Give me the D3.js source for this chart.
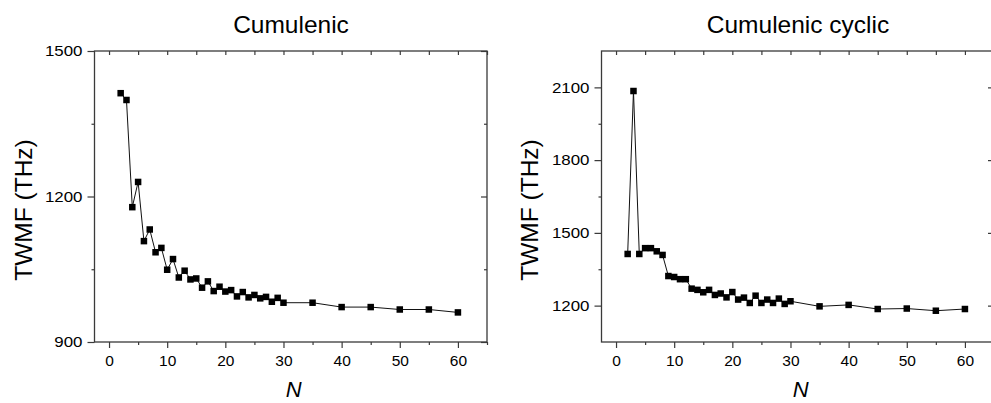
<!DOCTYPE html>
<html>
<head>
<meta charset="utf-8">
<script src="https://cdn.jsdelivr.net/npm/d3@7"></script>
<style>
  html, body { margin: 0; padding: 0; background: #fff; }
  svg { display: block; font-family: "Liberation Sans", Arial, sans-serif; }
</style>
</head>
<body>
<div id="chart"></div>
<script>
"use strict";

/* ── Data ── */
const nValues = [2, 3, 4, 5, 6, 7, 8, 9, 10, 11, 12, 13, 14, 15, 16, 17, 18, 19, 20,
                 21, 22, 23, 24, 25, 26, 27, 28, 29, 30, 35, 40, 45, 50, 55, 60];

const cumulenic = [1413, 1399, 1178, 1230, 1108, 1132, 1085, 1094, 1049, 1071,
                   1033, 1047, 1029, 1031, 1012, 1025, 1005, 1014, 1004, 1007,
                   994, 1003, 992, 997, 990, 993, 983, 991, 981,
                   981, 972, 972, 967, 967, 961];

const cumulenicCyclic = [1413, 2085, 1413, 1437, 1437, 1424, 1409, 1322, 1318, 1309,
                         1309, 1270, 1265, 1255, 1265, 1244, 1250, 1234, 1256, 1225,
                         1233, 1211, 1241, 1211, 1225, 1211, 1229, 1207, 1218,
                         1197, 1203, 1186, 1188, 1179, 1186];

const xMajorTicks = [0, 10, 20, 30, 40, 50, 60];
const xMinorTicks = [5, 15, 25, 35, 45, 55, 65];

const leftYMajor  = [900, 1200, 1500];
const leftYMinor  = [1050, 1350];
const rightYMajor = [1200, 1500, 1800, 2100];
const rightYMinor = [1350, 1650, 1950];

const titles = ["Cumulenic", "Cumulenic cyclic"];
const yLabel = "TWMF (THz)";
const xLabel = "N";

/* ── Canvas ── */
const W = 991, H = 403;
const svg = d3.select("#chart").append("svg")
  .attr("width", W).attr("height", H);

const AXIS_COL = "#3a3a3a";
const FONT = "Liberation Sans, Arial, sans-serif";

function drawPanel(cfg) {
  const x = d3.scaleLinear().domain([-2.5, 65]).range([cfg.left, cfg.right]);
  const y = d3.scaleLinear().domain(cfg.yDomain).range([342, 51]);
  const g = svg.append("g");

  const styleTicks = sel => {
    sel.select(".domain").remove();
    sel.selectAll(".tick line").attr("stroke", AXIS_COL).attr("stroke-width", 1.2);
  };

  /* ── Bottom axis (outward ticks) ── */
  g.append("g")
    .attr("transform", `translate(0,${y.range()[0]})`)
    .call(d3.axisBottom(x).tickValues(xMajorTicks).tickSize(6).tickPadding(7)
      .tickFormat(d3.format("d")))
    .call(styleTicks)
    .call(a => a.selectAll(".tick text")
      .attr("fill", "#000").attr("font-size", "15.5px")
      .attr("font-family", FONT));
  g.append("g")
    .attr("transform", `translate(0,${y.range()[0]})`)
    .call(d3.axisBottom(x).tickValues(xMinorTicks).tickSize(3).tickFormat(""))
    .call(styleTicks);

  /* ── Top axis (inward ticks) ── */
  g.append("g")
    .attr("transform", `translate(0,${y.range()[1]})`)
    .call(d3.axisBottom(x).tickValues(xMajorTicks.concat(xMinorTicks)).tickSize(4).tickFormat(""))
    .call(styleTicks);

  /* ── Left axis (outward ticks) ── */
  g.append("g")
    .attr("transform", `translate(${cfg.left},0)`)
    .call(d3.axisLeft(y).tickValues(cfg.yMajor).tickSize(7).tickPadding(5)
      .tickFormat(d3.format("d")))
    .call(styleTicks)
    .call(a => a.selectAll(".tick text")
      .attr("fill", "#000").attr("font-size", "14.5px")
      .attr("font-family", FONT)
      .attr("textLength", function() { return this.textContent.length * 9.4; })
      .attr("lengthAdjust", "spacingAndGlyphs"));
  g.append("g")
    .attr("transform", `translate(${cfg.left},0)`)
    .call(d3.axisLeft(y).tickValues(cfg.yMinor).tickSize(3).tickFormat(""))
    .call(styleTicks);

  /* ── Right axis (inward ticks) ── */
  g.append("g")
    .attr("transform", `translate(${cfg.right},0)`)
    .call(d3.axisLeft(y).tickValues(cfg.yMajor).tickSize(6).tickFormat(""))
    .call(styleTicks);
  g.append("g")
    .attr("transform", `translate(${cfg.right},0)`)
    .call(d3.axisLeft(y).tickValues(cfg.yMinor).tickSize(3).tickFormat(""))
    .call(styleTicks);

  /* ── Frame ── */
  g.append("rect")
    .attr("x", cfg.left).attr("y", y.range()[1])
    .attr("width", cfg.right - cfg.left)
    .attr("height", y.range()[0] - y.range()[1])
    .attr("fill", "none").attr("stroke", AXIS_COL).attr("stroke-width", 1.3);

  /* ── Series ── */
  const pts = nValues.map((n, i) => ({ n, v: cfg.values[i] }));
  g.append("path")
    .datum(pts)
    .attr("fill", "none").attr("stroke", "#111").attr("stroke-width", 1)
    .attr("d", d3.line().x(d => x(d.n)).y(d => y(d.v)));

  const s = 6.5;
  g.selectAll(".pt")
    .data(pts)
    .join("rect")
    .attr("class", "pt")
    .attr("x", d => x(d.n) - s / 2).attr("y", d => y(d.v) - s / 2)
    .attr("width", s).attr("height", s)
    .attr("fill", "#000");

  /* ── Labels ── */
  const cx = (cfg.left + cfg.right) / 2;
  g.append("text")
    .attr("x", cfg.titleX).attr("y", 32.5)
    .attr("text-anchor", "middle")
    .attr("font-size", "24.5px").attr("fill", "#000")
    .text(cfg.title);

  g.append("text")
    .attr("transform", `translate(${cfg.yLabelX},210) rotate(-90)`)
    .attr("text-anchor", "middle")
    .attr("font-size", "24.5px").attr("fill", "#000")
    .text(yLabel);

  g.append("text")
    .attr("x", cx + 3).attr("y", 397)
    .attr("text-anchor", "middle")
    .attr("font-size", "22px").attr("font-style", "italic").attr("fill", "#000")
    .text(xLabel);
}

drawPanel({
  left: 94.5, right: 487, yDomain: [900, 1500],
  yMajor: leftYMajor, yMinor: leftYMinor,
  values: cumulenic, title: titles[0], titleX: 291, yLabelX: 32
});

drawPanel({
  left: 601.5, right: 994, yDomain: [1050, 2250],
  yMajor: rightYMajor, yMinor: rightYMinor,
  values: cumulenicCyclic, title: titles[1], titleX: 798, yLabelX: 537.5
});
</script>
</body>
</html>
